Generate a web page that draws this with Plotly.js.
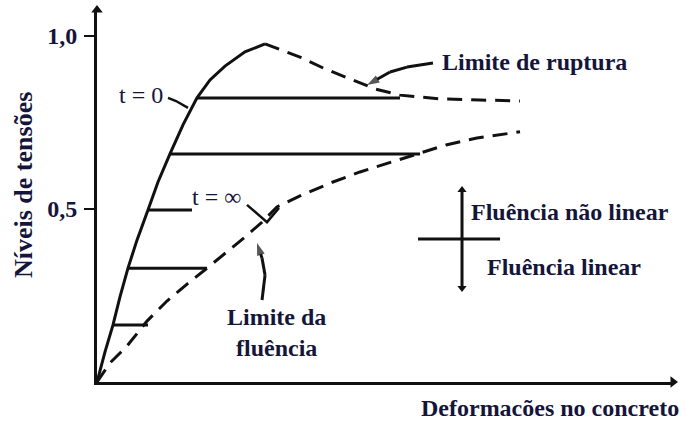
<!DOCTYPE html>
<html>
<head>
<meta charset="utf-8">
<script src="https://cdn.plot.ly/plotly-3.0.1.min.js"></script>
<style>html,body{margin:0;padding:0;background:#fff}#chart{width:686px;height:421px}</style>
</head>
<body>
<div id="chart"></div>
<script>
// ---- data (x: strain, arbitrary units 0..100; y: stress level) ----
const xRange = [0, 100];
const yRange = [0, 1.075];
const yTickVals = [0.5, 1.0];
const yTickText = ['0,5', '1,0'];

// instantaneous curve (t = 0), solid part
const solidX = [0, 1.39, 2.78, 3.99, 5.38, 6.94, 8.85, 10.59, 12.67, 14.93, 17.36, 19.62, 22.22, 25.69, 29.17];
const solidY = [0, 0.087, 0.165, 0.246, 0.329, 0.410, 0.497, 0.578, 0.659, 0.743, 0.821, 0.873, 0.913, 0.954, 0.977];

// rupture limit (dashed continuation)
const ruptX = [29.17, 31.77, 35.24, 39.58, 43.92, 48.26, 52.60, 59.55, 66.49, 73.44];
const ruptY = [0.977, 0.960, 0.939, 0.905, 0.876, 0.847, 0.829, 0.818, 0.815, 0.812];

// creep limit (t = infinity), dashed
const fluX = [0, 2.26, 5.21, 8.68, 12.15, 15.63, 19.10, 22.57, 25.69, 28.65, 31.25, 35.24, 40.97, 45.66, 50.00, 56.08, 60.59, 65.97, 73.44];
const fluY = [0, 0.055, 0.104, 0.176, 0.234, 0.283, 0.329, 0.376, 0.419, 0.462, 0.506, 0.538, 0.578, 0.607, 0.630, 0.662, 0.685, 0.705, 0.723];

// constant stress levels (creep under sustained load)
const levels     = [0.165, 0.329, 0.497, 0.659, 0.821];
const levelStart = [2.78, 5.38, 8.85, 12.67, 17.36];
const levelEnd   = [8.85, 19.10, 16.49, 56.08, 52.60];

// pointers
const ptr0X = [12.33, 13.72, 15.80];
const ptr0Y = [0.821, 0.812, 0.792];
const ptrInfX = [26.04, 29.51, 31.60];
const ptrInfY = [0.512, 0.462, 0.503];
const ptrRuptX = [58.33, 53.82, 50.87, 49.13, 46.88];
const ptrRuptY = [0.922, 0.910, 0.896, 0.879, 0.858];
const ptrFluX = [28.65, 29.17, 28.65, 27.78];
const ptrFluY = [0.237, 0.309, 0.358, 0.402];

// linear / non-linear creep cross
const crossVX = [63.37, 63.37];
const crossVY = [0.272, 0.555];
const crossHX = [55.73, 69.97];
const crossHY = [0.413, 0.413];

// ---- build ----
const ink = '#111111';
const txt = '#15153a';
const fam = '"Liberation Serif", "Times New Roman", serif';
const serifB = {family: fam, size: 24, color: txt, weight: 'bold'};
const serifR = {family: fam, size: 24, color: txt, weight: 'normal'};

const hx = [], hy = [];
levels.forEach((l, i) => { hx.push(levelStart[i], levelEnd[i], null); hy.push(l, l, null); });

function line(x, y, opts) {
  return Object.assign({type: 'scatter', mode: 'lines', x: x, y: y, cliponaxis: false,
    hoverinfo: 'skip', showlegend: false, line: {color: ink, width: 3}}, opts || {});
}
function arrowLine(x, y, size) {
  const sizes = x.map((_, i) => i === x.length - 1 ? size : 0);
  return line(x, y, {mode: 'lines+markers',
    marker: {symbol: 'arrow', angleref: 'previous', size: sizes, color: ink, line: {width: 0}}});
}

const traces = [
  line(solidX, solidY),
  line(ruptX, ruptY, {line: {color: ink, width: 3, dash: '15px,9px'}}),
  line(fluX, fluY, {line: {color: ink, width: 3, dash: '15px,9px'}}),
  line(hx, hy),
  line(ptr0X, ptr0Y, {line: {color: ink, width: 2.5}}),
  line(ptrInfX, ptrInfY, {line: {color: ink, width: 2.5}}),
  arrowLine(ptrRuptX, ptrRuptY, 13),
  arrowLine(ptrFluX, ptrFluY, 13),
  line(crossVX, crossVY, {mode: 'lines+markers',
    marker: {symbol: ['triangle-down', 'triangle-up'], size: 8, color: ink}}),
  line(crossHX, crossHY),
  // axis arrowheads at the axis ends
  line([xRange[0]], [yRange[1]], {mode: 'markers', marker: {symbol: 'triangle-up', size: 10, color: ink}}),
  line([xRange[1]], [yRange[0]], {mode: 'markers', marker: {symbol: 'triangle-right', size: 10, color: ink}})
];

function ann(text, x, y, font, extra) {
  return Object.assign({text: text, x: x, y: y, xref: 'x', yref: 'y', showarrow: false,
    xanchor: 'center', yanchor: 'middle', font: font}, extra || {});
}

const layout = {
  width: 686, height: 421,
  margin: {l: 97, r: 13, t: 10, b: 39, pad: 0},
  paper_bgcolor: '#fff', plot_bgcolor: '#fff',
  showlegend: false,
  xaxis: {range: xRange, showgrid: false, zeroline: false, showline: true, linecolor: ink, linewidth: 3,
          showticklabels: false, ticks: '', fixedrange: true},
  yaxis: {range: yRange, showgrid: false, zeroline: false, showline: true, linecolor: ink, linewidth: 3,
          tickvals: yTickVals, ticktext: yTickText, ticks: 'outside', ticklen: 10, tickwidth: 2.5,
          tickcolor: ink, tickfont: serifB, ticklabelstandoff: 2, fixedrange: true},
  annotations: [
    ann('t = 0', 7.64, 0.830, serifR),
    ann('t = ∞', 20.75, 0.535, serifR),
    ann('Limite de ruptura', 75.95, 0.925, serifB),
    ann('Limite da<br>fluência', 31.08, 0.142, serifB),
    ann('Fluência não linear', 82.1, 0.491, serifB),
    ann('Fluência linear', 80.99, 0.332, serifB),
    ann('Deformacões no concreto', 0.7865, -0.070, serifB, {xref: 'paper', yref: 'paper'}),
    ann('Níveis de tensões', -0.1267, 0.5296, Object.assign({}, serifB, {size: 26}),
        {xref: 'paper', yref: 'paper', textangle: -90})
  ]
};

Plotly.newPlot('chart', traces, layout, {displayModeBar: false, staticPlot: true});
</script>
</body>
</html>
